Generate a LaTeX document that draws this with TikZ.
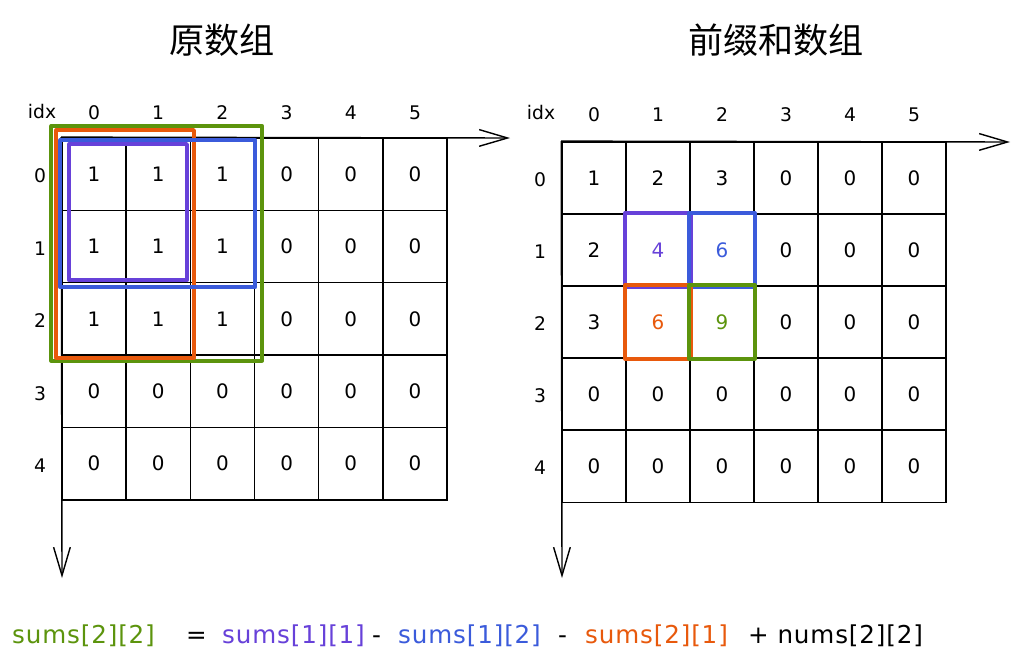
\documentclass[tikz,border=0pt]{standalone}
\usepackage{fontspec}
\setmainfont{DejaVu Sans}
\newfontfamily\cjk{Noto Sans CJK SC}
\usetikzlibrary{arrows.meta}

\definecolor{cgreen}{HTML}{5C940D}
\definecolor{corange}{HTML}{E8590C}
\definecolor{cblue}{HTML}{3B5BDB}
\definecolor{cpurple}{HTML}{6741D9}

\begin{document}
\begin{tikzpicture}[x=0.03cm, y=-0.03cm,
  >={Straight Barb[length=0.85cm, width=0.5cm]},
  cell/.style={draw, line width=1.2pt, minimum width=1.926cm, minimum height=2.172cm,
    inner sep=0pt, font=\fontsize{17}{20}\selectfont},
  idx/.style={font=\fontsize{16}{18}\selectfont},
  title/.style={font=\cjk\fontsize{30}{34}\selectfont},
  axis/.style={->, line width=1.2pt},
  box/.style={line width=3.2pt, line join=round},
  part/.style={anchor=base west, inner sep=0pt,
    font=\addfontfeatures{LetterSpace=3.5}\fontsize{21}{24}\selectfont}]
  \fill[white] (0,0) rectangle (1020,668);
  \useasboundingbox (0,0) rectangle (1020,668);

  % titles
  \node[title] (t-left) at (222,40) {原数组};
  \node[title] (t-right) at (776,40) {前缀和数组};

  % original array
  \node[idx] (L-idx) at (42,112) {idx};
  \foreach \c in {0,...,5}
    \node[idx] (L-col-\c) at ({94+64.2*\c},113) {\c};
  \foreach \r/\row in {0/{1,1,1,0,0,0}, 1/{1,1,1,0,0,0}, 2/{1,1,1,0,0,0},
                       3/{0,0,0,0,0,0}, 4/{0,0,0,0,0,0}} {
    \node[idx] (L-row-\r) at (40,{176+72.4*\r}) {\r};
    \foreach \v [count=\c from 0] in \row
      \node[cell] (L-\r-\c) at ({94+64.2*\c},{174+72.4*\r}) {\v};
  }
  \coordinate (L-x) at (510,138);
  \coordinate (L-y) at (62,578);
  \draw[axis] (L-0-0.north west) -- (L-x);
  \draw[axis] (L-0-0.north west) -- (L-y);

  \draw[box, cgreen] ([shift={(-10,-11)}]L-0-0.north west) rectangle ([shift={(7,5)}]L-2-2.south east);
  \draw[box, corange] ([shift={(-5,-7)}]L-0-0.north west) rectangle ([shift={(3,2)}]L-2-1.south east);
  \draw[box, cblue] ([shift={(-1,3)}]L-0-0.north west) rectangle ([shift={(0,4)}]L-1-2.south east);
  \draw[box, cpurple] ([shift={(8,7)}]L-0-0.north west) rectangle ([shift={(-4,-3)}]L-1-1.south east);

  % prefix sum array
  \node[idx] (R-idx) at (541,113) {idx};
  \foreach \c in {0,...,5}
    \node[idx] (R-col-\c) at ({594+64*\c},115) {\c};
  \foreach \r/\row in {0/{1,2,3,0,0,0},
                       1/{2,\textcolor{cpurple}{4},\textcolor{cblue}{6},0,0,0},
                       2/{3,\textcolor{corange}{6},\textcolor{cgreen}{9},0,0,0},
                       3/{0,0,0,0,0,0}, 4/{0,0,0,0,0,0}} {
    \node[idx] (R-row-\r) at (540,{180+72*\r}) {\r};
    \foreach \v [count=\c from 0] in \row
      \node[cell] (R-\r-\c) at ({594+64*\c},{178+72*\r}) {\v};
  }
  \coordinate (R-x) at (1010,142);
  \coordinate (R-y) at (562,578);
  \draw[axis] (R-0-0.north west) -- (R-x);
  \draw[axis] (R-0-0.north west) -- (R-y);

  \draw[box, cpurple] (R-1-1.north west) rectangle (R-1-1.south east);
  \draw[box, cblue] (R-1-2.north west) rectangle (R-1-2.south east);
  \draw[box, corange] (R-2-1.north west) rectangle (R-2-1.south east);
  \draw[box, cgreen] (R-2-2.north west) rectangle (R-2-2.south east);

  % formula
  \node[part, cgreen] (f-1) at (12,643) {sums[2][2]};
  \node[part] (f-2) at (186,643) {=};
  \node[part, cpurple] (f-3) at (222,643) {sums[1][1]};
  \node[part] (f-4) at (372,643) {-};
  \node[part, cblue] (f-5) at (398,643) {sums[1][2]};
  \node[part] (f-6) at (558,643) {-};
  \node[part, corange] (f-7) at (585,643) {sums[2][1]};
  \node[part] (f-8) at (748,643) {+ nums[2][2]};
\end{tikzpicture}
\end{document}
